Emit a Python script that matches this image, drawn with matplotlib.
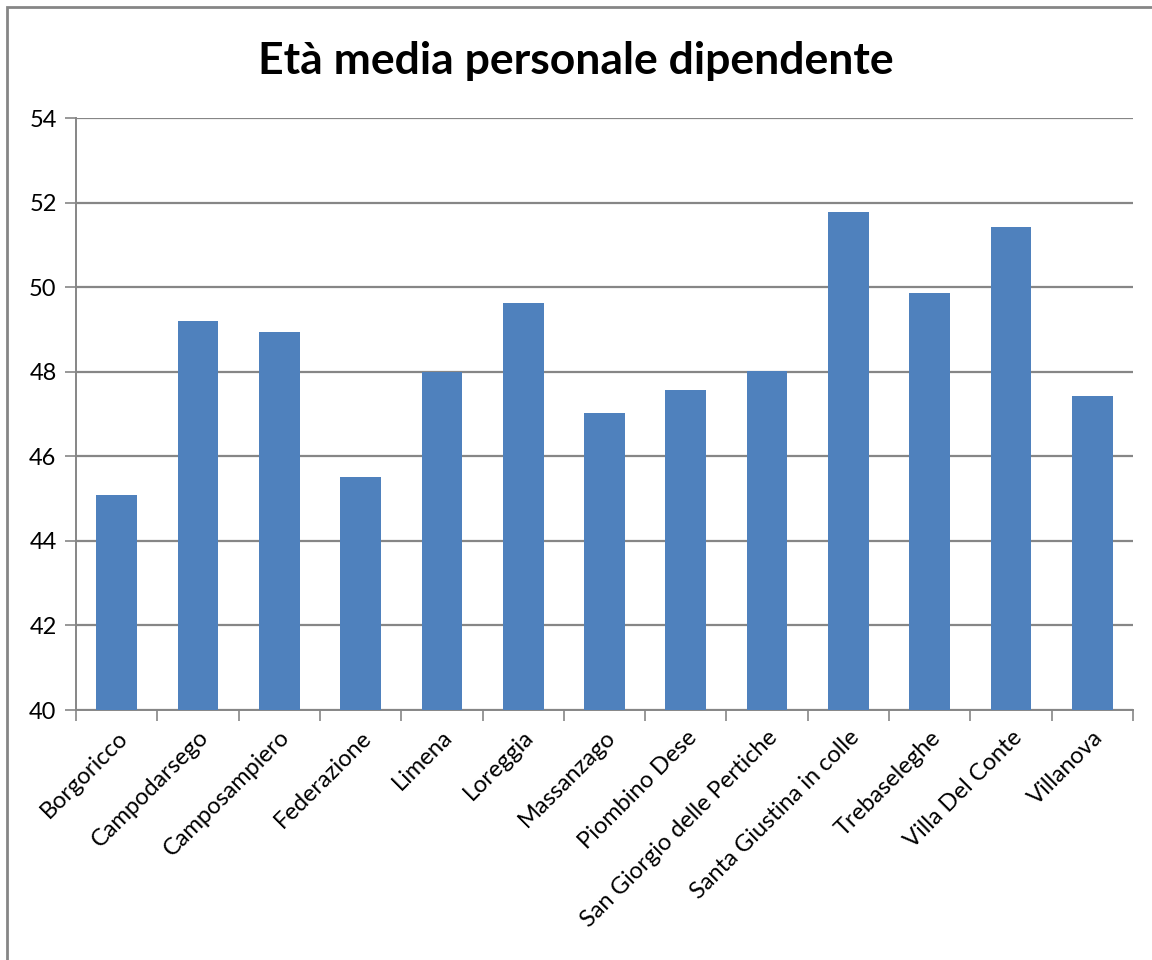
import numpy as np
import matplotlib.pyplot as plt
from matplotlib.patches import Rectangle

comuni = ['Borgoricco', 'Campodarsego', 'Camposampiero', 'Federazione', 'Limena',
          'Loreggia', 'Massanzago', 'Piombino Dese', 'San Giorgio delle Pertiche',
          'Santa Giustina in colle', 'Trebaseleghe', 'Villa Del Conte', 'Villanova']
eta_media = [45.08, 49.2, 48.94, 45.52, 48.0, 49.62, 47.03, 47.56, 48.02,
             51.79, 49.87, 51.43, 47.43]
y_ticks = [40, 42, 44, 46, 48, 50, 52, 54]

plt.rcParams['font.family'] = ['Lato', 'DejaVu Sans']
grey = '#868686'

fig = plt.figure(figsize=(11.52, 9.6), dpi=100)
ax = fig.add_axes([0.066, 0.2604, 0.9175, 0.6166])

x = np.arange(len(comuni))
ax.bar(x, np.array(eta_media) - 40, bottom=40, width=0.5, color='#4F81BD', zorder=3)

ax.set_ylim(40, 54)
ax.set_xlim(-0.5, len(comuni) - 0.5)
ax.set_yticks(y_ticks)
ax.set_yticklabels([str(v) for v in y_ticks], fontsize=17)
ax.yaxis.grid(True, color=grey, linewidth=1.6, zorder=0)

# category labels at centres, ticks between categories
ax.set_xticks(x)
ax.set_xticklabels(comuni, rotation=45, ha='right', rotation_mode='anchor', fontsize=17)
ax.tick_params(axis='x', length=0, pad=12)
ax.set_xticks(np.arange(-0.5, len(comuni), 1), minor=True)
ax.tick_params(axis='x', which='minor', length=8, color=grey, width=1.2)
ax.tick_params(axis='y', length=8, color=grey, width=1.2, pad=6)

for s in ['top', 'right']:
    ax.spines[s].set_visible(False)
for s in ['left', 'bottom']:
    ax.spines[s].set_color(grey)
    ax.spines[s].set_linewidth(1.4)

fig.suptitle('Età media personale dipendente', fontsize=32, fontweight='bold', y=0.957)

# chart frame
fig.patches.append(Rectangle((7 / 1152, -0.02), 1.05, 1 - 7 / 960 + 0.02,
                             transform=fig.transFigure, fill=False,
                             edgecolor=grey, linewidth=2))

plt.savefig('out.png', dpi=100)
